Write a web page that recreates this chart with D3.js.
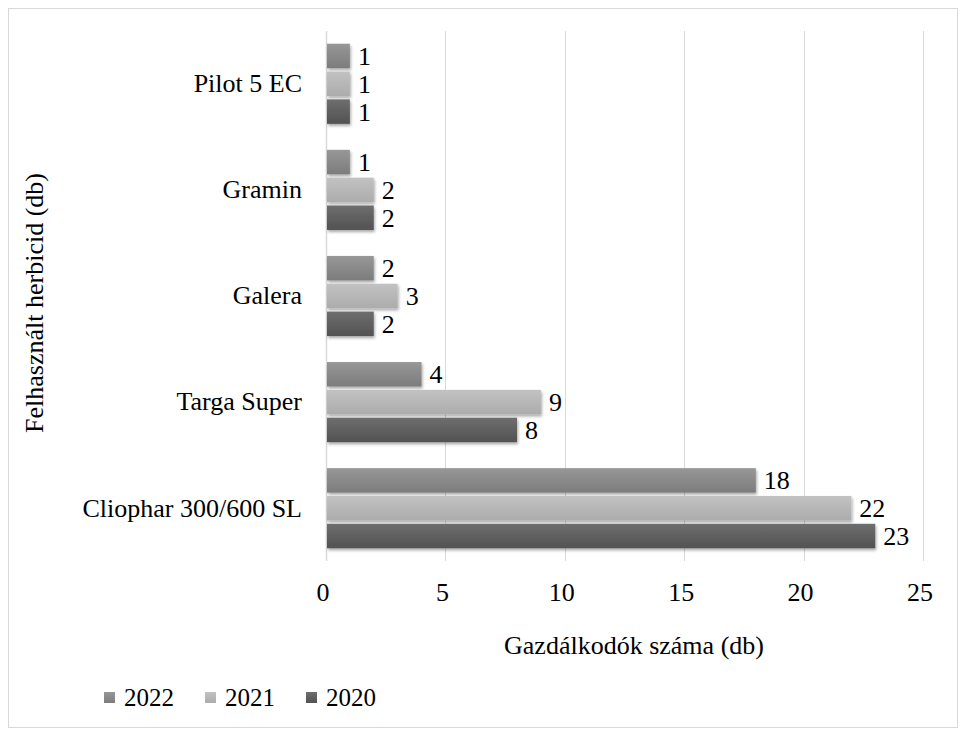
<!DOCTYPE html>
<html><head><meta charset="utf-8">
<script src="https://cdn.jsdelivr.net/npm/d3@7"></script>
<style>
body{margin:0;background:#fff}
svg{display:block}
svg text{font-family:'Liberation Serif','Tinos','Times New Roman',serif !important}
</style>
</head><body>
<svg id="c" width="966" height="736" style="font-family:'Liberation Serif',serif"></svg>
<script>
const categories = ["Pilot 5 EC","Gramin","Galera","Targa Super","Cliophar 300/600 SL"];
const seriesNames = ["2022","2021","2020"];
const v2022 = [1,1,2,4,18];
const v2021 = [1,2,3,9,22];
const v2020 = [1,2,2,8,23];
const xTicks = [0,5,10,15,20,25];
const colors = {"2022":["#979797","#7c7c7c"],"2021":["#c2c2c2","#acacac"],"2020":["#6e6e6e","#525252"]};

(function(){
const FS = 26;
const svg = d3.select("#c");
const txt = sel => sel.style("font-family","'Liberation Serif', serif").attr("font-size",FS).attr("fill","#000");
svg.append("rect").attr("x",8.5).attr("y",8.5).attr("width",949).attr("height",719).attr("fill","#fff").attr("stroke","#d9d9d9");
const defs = svg.append("defs");
seriesNames.forEach(s=>{
  const g = defs.append("linearGradient").attr("id","g"+s).attr("x1",0).attr("y1",0).attr("x2",0).attr("y2",1);
  g.append("stop").attr("offset","0%").attr("stop-color",colors[s][0]);
  g.append("stop").attr("offset","100%").attr("stop-color",colors[s][1]);
});
const f = defs.append("filter").attr("id","sh").attr("x","-10%").attr("y","-30%").attr("width","130%").attr("height","180%");
f.append("feDropShadow").attr("dx",1).attr("dy",2).attr("stdDeviation",1.5).attr("flood-color","#000").attr("flood-opacity",0.35);

const pL=326, pR=923, pT=31, pB=561;
const x = d3.scaleLinear().domain([0,25]).range([pL,pR]);
const y = d3.scaleBand().domain(categories).range([pT,pB]).paddingInner(0.245).paddingOuter(0.12);
const ySub = d3.scaleBand().domain(seriesNames).range([0,y.bandwidth()]).paddingInner(0.12);

svg.append("g").selectAll("line").data(xTicks.slice(1)).join("line")
  .attr("x1",d=>Math.round(x(d))+0.5).attr("x2",d=>Math.round(x(d))+0.5).attr("y1",pT).attr("y2",pB)
  .attr("stroke","#d9d9d9").attr("stroke-width",1);
svg.append("line").attr("x1",pL+0.5).attr("x2",pL+0.5).attr("y1",pT).attr("y2",pB).attr("stroke","#d9d9d9").attr("stroke-width",1.5);

const data = {"2022":v2022,"2021":v2021,"2020":v2020};
seriesNames.forEach(s=>{
  const gg = svg.append("g");
  categories.forEach((c,i)=>{
    const yy = y(c)+ySub(s);
    gg.append("rect").attr("x",x(0)+1).attr("y",yy).attr("width",x(data[s][i])-x(0)-1).attr("height",ySub.bandwidth())
      .attr("fill","url(#g"+s+")").attr("filter","url(#sh)");
    gg.append("text").attr("x",x(data[s][i])+8).attr("y",yy+ySub.bandwidth()/2).attr("dy","0.35em")
      .call(txt).text(data[s][i]);
  });
});

svg.append("g").selectAll("text").data(categories).join("text")
  .attr("x",302).attr("y",d=>y(d)+y.bandwidth()/2).attr("dy","0.32em").attr("text-anchor","end")
  .call(txt).text(d=>d);

svg.append("g").selectAll("text").data(xTicks).join("text")
  .attr("x",d=>x(d)-3).attr("y",592).attr("dy","0.35em").attr("text-anchor","middle")
  .call(txt).text(d=>d);

svg.append("text").attr("x",634).attr("y",645).attr("dy","0.35em").attr("text-anchor","middle").call(txt).text("Gazdálkodók száma (db)");
svg.append("text").attr("transform","translate(34,303) rotate(-90)").attr("dy","0.35em").attr("text-anchor","middle").call(txt).text("Felhasznált herbicid (db)");

const lx=[104,205,306];
seriesNames.forEach((s,i)=>{
  svg.append("rect").attr("x",lx[i]).attr("y",692).attr("width",11).attr("height",11).attr("fill","url(#g"+s+")");
  svg.append("text").attr("x",lx[i]+20).attr("y",697).attr("dy","0.35em").call(txt).attr("font-size",25).text(s);
});
})();
</script>
</body></html>
